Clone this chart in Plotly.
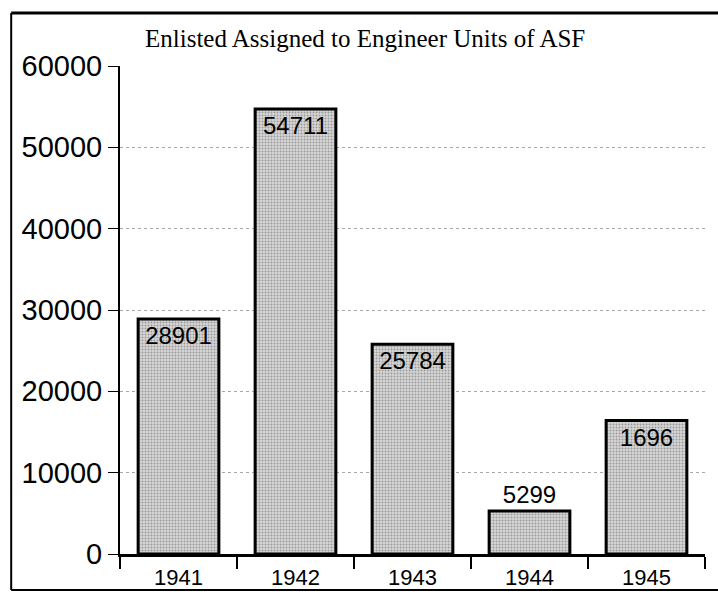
import plotly.graph_objects as go

years = ["1941", "1942", "1943", "1944", "1945"]
enlisted = [28901, 54711, 25784, 5299, 16400]
bar_labels = ["28901", "54711", "25784", "5299", "1696"]
label_pos = ["inside", "inside", "inside", "outside", "inside"]
y_ticks = [0, 10000, 20000, 30000, 40000, 50000, 60000]
y_tick_text = ["0", "10000", "20000", "30000", "40000", "50000", "60000"]

fig = go.Figure()
fig.add_trace(go.Bar(
    x=years,
    y=enlisted,
    text=bar_labels,
    textposition=label_pos,
    insidetextanchor="end",
    constraintext="none",
    cliponaxis=False,
    textfont=dict(family="Liberation Sans, Arial", size=24, color="black"),
    marker=dict(
        color="#c8c8c8",
        line=dict(color="black", width=3),
        pattern=dict(shape=".", fgcolor="#5e5e5e", bgcolor="#d6d6d6", size=3, solidity=0.35),
    ),
    width=0.69,
    hoverinfo="x+y",
))

# outer frame (right side is cut off in the scan)
frame = dict(type="line", xref="paper", yref="paper", line=dict(color="black"))
x0, x1 = -0.186, 1.03
y_top, y_bot = 1.1086, -0.0738
fig.add_shape(**frame, x0=x0, x1=x1, y0=y_top, y1=y_top, line_width=3)
fig.add_shape(**frame, x0=x0, x1=x0, y0=y_bot, y1=y_top, line_width=2)
fig.add_shape(**frame, x0=x0, x1=x1, y0=y_bot, y1=y_bot, line_width=2)

fig.add_annotation(
    text="Enlisted Assigned to Engineer Units of ASF",
    xref="paper", yref="paper", x=0.419, y=1.057,
    showarrow=False, xanchor="center", yanchor="middle",
    font=dict(family="Liberation Serif, Times New Roman", size=25, color="black"),
)

fig.update_layout(
    width=718,
    height=594,
    margin=dict(l=120, r=13, t=66, b=40),
    plot_bgcolor="white",
    paper_bgcolor="white",
    showlegend=False,
    font=dict(family="Liberation Sans, Arial", size=20, color="black"),
    xaxis=dict(
        type="category",
        automargin=False,
        showline=True, linecolor="black", linewidth=3,
        ticks="outside", tickson="boundaries", ticklen=12, tickwidth=2, tickcolor="black",
        ticklabelstandoff=2,
        showgrid=False,
        tickfont=dict(size=22, color="black"),
    ),
    yaxis=dict(
        range=[0, 60000],
        automargin=False,
        tickvals=y_ticks,
        ticktext=y_tick_text,
        showline=True, linecolor="black", linewidth=2,
        ticks="outside", ticklen=10, tickwidth=1, tickcolor="black",
        showgrid=True, gridcolor="#a8a8a8", gridwidth=1, griddash="dot",
        zeroline=False,
        tickfont=dict(size=29, color="black"),
    ),
)

# drop the default 8px body margin so the figure sits flush in the window
fig.write_html(
    "out.html",
    config={"displayModeBar": False},
    post_script="document.body.style.margin='0';",
)
